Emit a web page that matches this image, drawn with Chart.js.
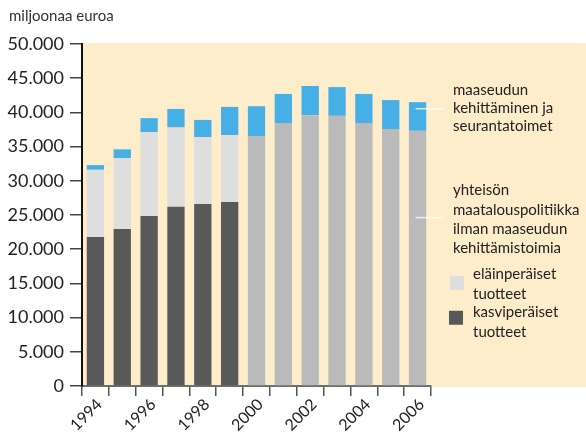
<!DOCTYPE html>
<html>
<head>
<meta charset="utf-8">
<script src="https://cdn.jsdelivr.net/npm/chart.js@4/dist/chart.umd.min.js"></script>
<style>
  html, body { margin: 0; padding: 0; background: #fff; }
</style>
</head>
<body>
<canvas id="chart" width="586" height="432"></canvas>
<script>
// data in millions of euros
const years = ['1994', '1995', '1996', '1997', '1998', '1999', '2000',
               '2001', '2002', '2003', '2004', '2005', '2006'];
const kasviperaiset = [21800, 22950, 24850, 26200, 26600, 26900, null, null, null, null, null, null, null];
const elainperaiset = [9800, 10350, 12250, 11600, 9800, 9800, null, null, null, null, null, null, null];
const yhteisonPolitiikka = [null, null, null, null, null, null, 36550, 38450, 39600, 39500, 38450, 37570, 37300];
const maaseudunKehitys = [700, 1300, 2060, 2700, 2500, 4100, 4350, 4250, 4260, 4200, 4250, 4230, 4200];

const yTitle = 'miljoonaa euroa';
const noteMaaseutu = ['maaseudun', 'kehittäminen ja', 'seurantatoimet'];
const noteYhteinen = ['yhteisön', 'maatalouspolitiikka', 'ilman maaseudun', 'kehittämistoimia'];
const legendElain = ['eläinperäiset', 'tuotteet'];
const legendKasvi = ['kasviperäiset', 'tuotteet'];

const FONT = 'Lato, "Noto Sans", sans-serif';
const TEXT = '#222';
const COLORS = {
  kasvi: '#595959',
  elain: '#dedede',
  yhteinen: '#bababa',
  maaseutu: '#46afe6',
  bg: '#fdedca'
};

function dots(v) {
  return String(v).replace(/\B(?=(\d{3})+(?!\d))/g, '.');
}

// beige plot background, reaching to the right edge
const bgPlugin = {
  id: 'bg',
  beforeDraw(chart) {
    const { ctx, chartArea } = chart;
    ctx.save();
    ctx.fillStyle = COLORS.bg;
    ctx.fillRect(chartArea.left, chartArea.top - 1, chart.width - chartArea.left, chartArea.bottom - chartArea.top + 2);
    ctx.restore();
  }
};

// axis title, notes with leader lines, legend squares
const notesPlugin = {
  id: 'notes',
  afterDraw(chart) {
    const { ctx, chartArea } = chart;
    const y = chart.scales.y;
    const x = chart.scales.x;
    const last = years.length - 1;
    const tx = chartArea.right + 22;

    ctx.save();
    ctx.fillStyle = '#333';
    ctx.font = '15px ' + FONT;
    ctx.textBaseline = 'middle';
    ctx.fillText(yTitle, 9, 16);

    ctx.fillStyle = TEXT;
    ctx.font = '15px ' + FONT;

    // leader lines
    const bx = x.getPixelForValue(last);
    ctx.strokeStyle = 'rgba(255,255,255,0.75)';
    ctx.lineWidth = 1.5;
    const y1 = y.getPixelForValue(yhteisonPolitiikka[last] + maaseudunKehitys[last] * 0.77);
    const y2 = y.getPixelForValue(yhteisonPolitiikka[last] * 0.66);
    [y1, y2].forEach(py => {
      ctx.beginPath();
      ctx.moveTo(bx - 2, py);
      ctx.lineTo(tx - 9, py);
      ctx.stroke();
    });

    noteMaaseutu.forEach((t, i) => ctx.fillText(t, tx, y1 - 19 + i * 18));
    noteYhteinen.forEach((t, i) => ctx.fillText(t, tx, y2 - 27 + i * 19.3));

    // legend
    ctx.fillStyle = COLORS.elain;
    ctx.fillRect(tx - 3, y.getPixelForValue(16100), 14, 14);
    ctx.fillStyle = COLORS.kasvi;
    ctx.fillRect(tx - 4, y.getPixelForValue(11000), 14, 14);
    ctx.fillStyle = TEXT;
    legendElain.forEach((t, i) => ctx.fillText(t, tx + 20, y.getPixelForValue(16400) + i * 20));
    legendKasvi.forEach((t, i) => ctx.fillText(t, tx + 20, y.getPixelForValue(10800) + i * 20));
    ctx.restore();
  }
};

const ctx = document.getElementById('chart').getContext('2d');

const data = {
  labels: years,
  datasets: [
    { label: 'kasviperäiset tuotteet', data: kasviperaiset, backgroundColor: COLORS.kasvi },
    { label: 'eläinperäiset tuotteet', data: elainperaiset, backgroundColor: COLORS.elain },
    { label: 'yhteisön maatalouspolitiikka ilman maaseudun kehittämistoimia', data: yhteisonPolitiikka, backgroundColor: COLORS.yhteinen },
    { label: 'maaseudun kehittäminen ja seurantatoimet', data: maaseudunKehitys, backgroundColor: COLORS.maaseutu }
  ]
};

const config = {
  type: 'bar',
  data: data,
  options: {
    responsive: false,
    animation: false,
    layout: { padding: { top: 44, right: 155, left: 0, bottom: 0 } },
    datasets: {
      bar: { barPercentage: 0.645, categoryPercentage: 1, borderWidth: 0 }
    },
    plugins: {
      legend: { display: false },
      tooltip: { enabled: false }
    },
    scales: {
      x: {
        stacked: true,
        offset: true,
        afterFit(s) { s.height = 46; },
        grid: { offset: true, drawOnChartArea: false, tickLength: 10, color: '#555', lineWidth: 1.5 },
        border: { color: '#6e6e6e', width: 2 },
        ticks: {
          autoSkip: false,
          maxRotation: 45,
          minRotation: 45,
          padding: -1,
          labelOffset: 4,
          color: TEXT,
          font: { family: FONT, size: 16 },
          callback: (v, i) => (i % 2 === 0 ? years[i] : '')
        }
      },
      y: {
        stacked: true,
        min: 0,
        max: 50000,
        afterFit(s) { s.width = 82; },
        grid: { drawOnChartArea: false, tickLength: 12, color: '#444', lineWidth: 1.5 },
        border: { color: '#111', width: 2 },
        ticks: {
          stepSize: 5000,
          padding: 6,
          color: TEXT,
          font: { family: FONT, size: 18 },
          callback: v => dots(v)
        }
      }
    }
  },
  plugins: [bgPlugin, notesPlugin]
};

const myChart = new Chart(ctx, config);
</script>
</body>
</html>
